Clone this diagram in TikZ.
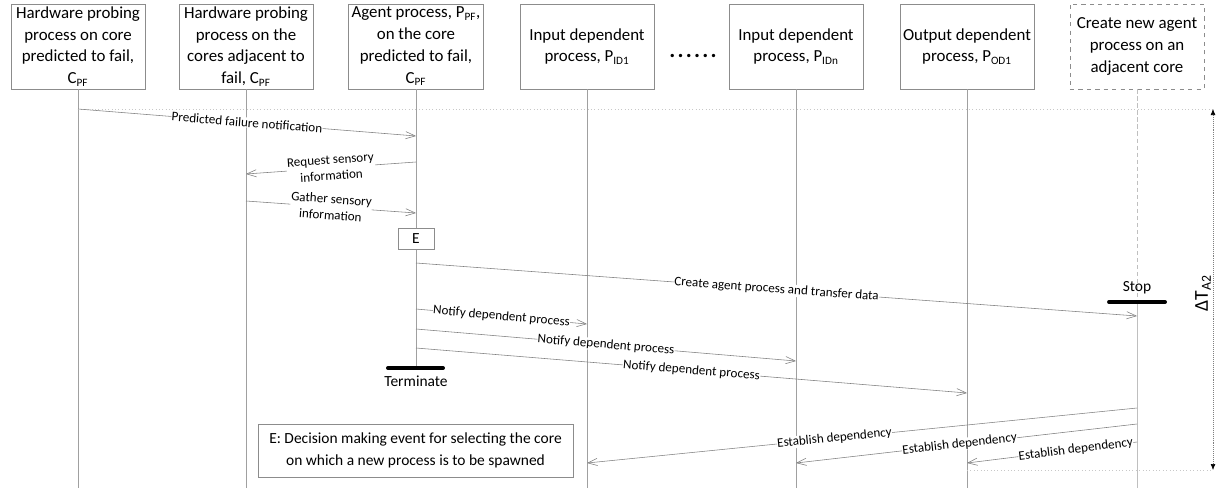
\documentclass[tikz,border=0pt]{standalone}
\usepackage{fontspec}
\setmainfont{Carlito}
\usepackage{tikz}
\usetikzlibrary{arrows.meta}

\definecolor{boxgray}{HTML}{8C8C8C}
\definecolor{lifegray}{HTML}{A0A0A0}
\definecolor{msggray}{HTML}{7F7F7F}
\definecolor{guidegray}{HTML}{C8C8C8}
\definecolor{stopgray}{HTML}{BFBFBF}

\begin{document}
\begin{tikzpicture}[x=0.025cm, y=-0.025cm,
    procbox/.style={draw=boxgray, fill=white, minimum width=3.35cm, minimum height=2.125cm,
        align=center, inner sep=2pt, font=\fontsize{12}{15.5}\selectfont},
    newbox/.style={procbox, dashed},
    life/.style={draw=lifegray, line width=0.5pt},
    msg/.style={draw=msggray, line width=0.4pt, -{Straight Barb[length=2.4mm, width=1.8mm]}},
    lbl/.style={midway, sloped, fill=white, inner sep=0.3pt, align=center,
        font=\fontsize{9.3}{11.5}\selectfont},
    bar/.style={line width=2.8pt, line cap=round},
    guide/.style={draw=guidegray, dotted},
    note/.style={font=\fontsize{11}{13}\selectfont}]
    \useasboundingbox (0,0) rectangle (1216,488);

    % process heads
    \node[procbox] (hwfail) at (78,46.5) {Hardware probing\\process on core\\predicted to fail,\\C\textsubscript{PF}};
    \node[procbox] (hwadj) at (246,46.5) {Hardware probing\\process on the\\cores adjacent to\\fail, C\textsubscript{PF}};
    \node[procbox] (agent) at (416,46.5) {Agent process, P\textsubscript{PF},\\on the core\\predicted to fail,\\C\textsubscript{PF}};
    \node[procbox] (inA) at (587,46.5) {Input dependent\\process, P\textsubscript{ID1}};
    \node[anchor=base, font=\fontsize{16}{16}\selectfont\bfseries] (dots) at (693,57) {.\kern1.6pt.\kern1.6pt.\kern1.6pt.\kern1.6pt.\kern1.6pt.};
    \node[procbox] (inN) at (796,46.5) {Input dependent\\process, P\textsubscript{IDn}};
    \node[procbox] (outA) at (967,46.5) {Output dependent\\process, P\textsubscript{OD1}};
    \node[newbox] (newagent) at (1137,46.5) {Create new agent\\process on an\\adjacent core};

    \coordinate (term) at (416,368);
    \coordinate (stop) at (1137,302);
    \coordinate (tTop) at (1213,109);
    \coordinate (tBot) at (1213,470);

    % life lines
    \draw[life] (hwfail.south) -- (hwfail.south |- 0,488);
    \draw[life] (hwadj.south) -- (hwadj.south |- 0,488);
    \draw[life] (agent.south) -- (term);
    \draw[life] (inA.south) -- (inA.south |- 0,488);
    \draw[life] (inN.south) -- (inN.south |- 0,488);
    \draw[life] (outA.south) -- (outA.south |- 0,488);
    \draw[life, draw=stopgray, densely dashed] (newagent.south) -- (stop);
    \draw[life, draw=stopgray] (stop) -- (stop |- 0,488);

    % time span
    \draw[guide] (hwfail.south |- tTop) -- (tTop);
    \draw[guide] (outA.south |- tBot) -- (tBot);
    \draw[draw=msggray, densely dotted, {Latex[length=1.5mm, width=1.2mm, color=black]}-{Latex[length=1.5mm, width=1.2mm, color=black]}] (tTop) -- (tBot);
    \node[rotate=90, font=\fontsize{14}{14}\selectfont] (dT) at (1203,293) {ΔT\textsubscript{A2}};

    \node[draw=boxgray, fill=white, minimum width=0.9cm, minimum height=0.525cm, inner sep=1pt, note] (evE) at (416,238.5) {E};

    % messages
    \draw[msg] (hwfail.south |- 0,109) -- node[lbl] {Predicted failure notification} (agent.south |- 0,136);
    \draw[msg] (agent.south |- 0,162) -- node[lbl] {Request sensory\\information} (hwadj.south |- 0,174);
    \draw[msg] (hwadj.south |- 0,201) -- node[lbl] {Gather sensory\\information} (agent.south |- 0,213);
    \draw[msg] (agent.south |- 0,263) -- node[lbl] {Create agent process and transfer data} (newagent.south |- 0,316);
    \draw[msg] (agent.south |- 0,309) -- node[lbl] {Notify dependent process} (inA.south |- 0,324);
    \draw[msg] (agent.south |- 0,329) -- node[lbl] {Notify dependent process} (inN.south |- 0,361);
    \draw[msg] (agent.south |- 0,348) -- node[lbl] {Notify dependent process} (outA.south |- 0,393);
    \draw[msg] (newagent.south |- 0,408) -- node[lbl, pos=0.55] {Establish dependency} (inA.south |- 0,463);
    \draw[msg] (newagent.south |- 0,424) -- node[lbl, pos=0.52] {Establish dependency} (inN.south |- 0,463);
    \draw[msg] (newagent.south |- 0,442) -- node[lbl, pos=0.36] {Establish dependency} (outA.south |- 0,463);

    % terminate and stop
    \draw[bar] (term) ++(-28,0) -- ++(55,0);
    \node[note] (termtxt) at (416,381) {Terminate};
    \draw[bar] (stop) ++(-28,0) -- ++(56,0);
    \node[note] (stoptxt) at (1137,288) {Stop};

    \node[draw=boxgray, fill=white, minimum width=7.875cm, minimum height=1.325cm, align=center,
        font=\fontsize{11}{16}\selectfont] (legend) at (415.5,450.5) {E: Decision making event for selecting the core\\on which a new process is to be spawned};
\end{tikzpicture}
\end{document}
